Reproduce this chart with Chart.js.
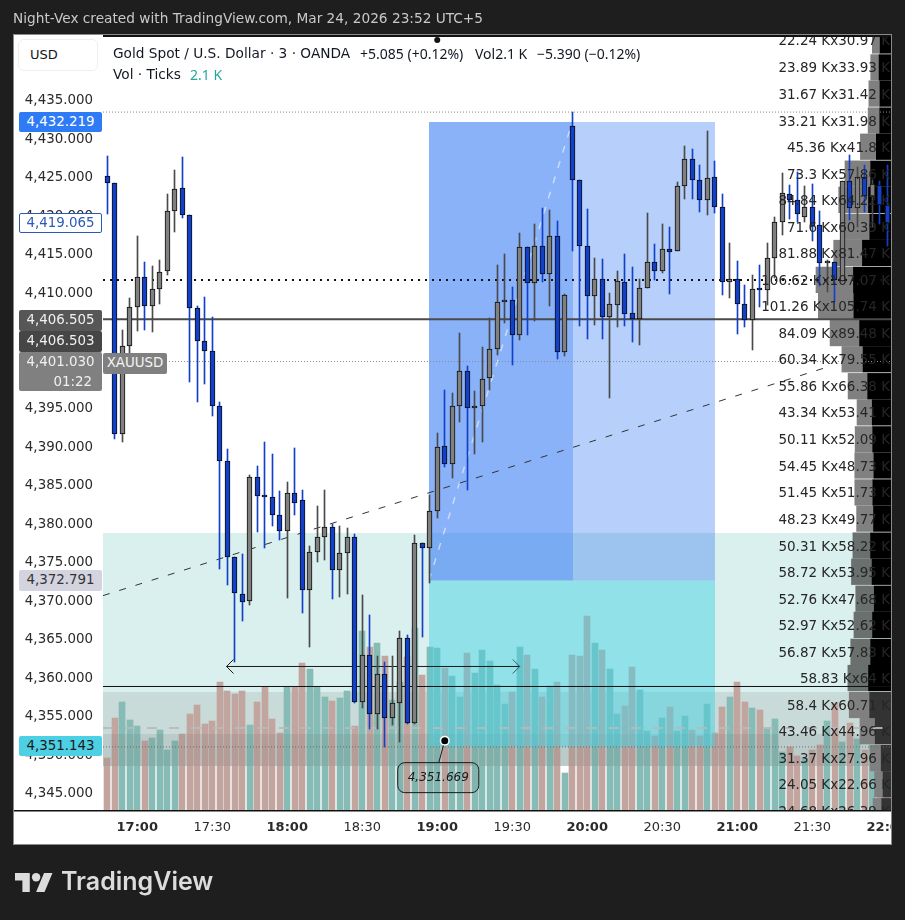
<!DOCTYPE html>
<html>
<head>
<meta charset="utf-8">
<title>XAUUSD</title>
<script src="https://cdn.jsdelivr.net/npm/chart.js@4"></script>
<style>
    html, body { margin: 0; padding: 0; background: #1e1e1e; }
    body { width: 905px; height: 920px; position: relative; overflow: hidden; font-family: "DejaVu Sans", sans-serif; }
    canvas { position: absolute; left: 0; top: 0; }
    .abs { position: absolute; white-space: pre; }
    .legend { color: #131722; font-size: 13.7px; }
    .legendNum { color: #131722; font-family: "Noto Sans", sans-serif; font-size: 14px; }
    .tag { position: absolute; left: 19px; width: 83px; text-align: center; font-size: 13.4px; line-height: 20px; box-sizing: border-box; border-radius: 2px; }
</style>
</head>
<body>
<canvas id="chart" width="905" height="920"></canvas>

<div class="abs" style="left:13px;top:10px;font-size:13.7px;color:#c9c9c9;">Night-Vex created with TradingView.com, Mar 24, 2026 23:52 UTC+5</div>
<div class="abs" style="left:18px;top:39px;width:78px;height:30px;border:1px solid #eeeeee;border-radius:6px;background:#fff;font-size:13px;line-height:30px;color:#131722;text-indent:11px;">USD</div>
<div class="abs legend" style="left:113px;top:45px;">Gold Spot / U.S. Dollar · 3 · OANDA</div>
<div class="abs legendNum" style="left:360px;top:44px;">+5.085 (+0.12%)</div>
<div class="abs legendNum" style="left:475px;top:44px;">Vol2.1 K</div>
<div class="abs legendNum" style="left:537px;top:44px;">−5.390 (−0.12%)</div>
<div class="abs legend" style="left:113px;top:66px;">Vol · Ticks</div>
<div class="abs legendNum" style="left:190px;top:65px;color:#26a69a;">2.1 K</div>

<div class="tag" style="top:112px;height:20px;background:#2f7bf6;color:#fff;">4,432.219</div>
<div class="tag" style="top:213px;height:20px;background:#fff;border:1px solid #2a5ab8;color:#2a5ab8;line-height:18px;">4,419.065</div>
<div class="tag" style="top:310px;height:21px;background:#575757;color:#f0f0f0;">4,406.505</div>
<div class="tag" style="top:331px;height:21px;background:#464646;color:#f0f0f0;">4,406.503</div>
<div class="tag" style="top:352px;height:39px;background:#808080;color:#f0f0f0;">4,401.030<br><span style="display:block;text-align:right;padding-right:10px;">01:22</span></div>
<div class="tag" style="left:103px;top:353px;width:64px;height:21px;background:#808080;color:#f4f4f4;">XAUUSD</div>
<div class="tag" style="top:570px;height:21px;background:#d4d4e0;color:#333;">4,372.791</div>
<div class="tag" style="top:736px;height:20px;background:#4dd0e4;color:#1a1a1a;">4,351.143</div>

<svg class="abs" style="left:15px;top:873px;" width="38" height="19" viewBox="0 4 36 18">
    <path fill="#dcdcdc" d="M14 22H7V11H0V4h14v18zM28 22h-8l7.5-18h8L28 22z"/>
    <circle fill="#dcdcdc" cx="20" cy="8" r="4"/>
</svg>
<div class="abs" style="left:61px;top:866px;font-family:Inter,sans-serif;font-size:25px;font-weight:600;color:#dcdcdc;">TradingView</div>

<script>
// 3 minute bars, the first one sits four bars before 17:00
const firstBar = -4;
const barOpens = [4424.96,4424.05,4391.45,4402.88,4407.95,4411.84,4408.08,4410.29,4412.62,4420.42,4423.40,4419.90,4407.82,4403.53,4402.23,4395.09,4387.95,4375.48,4370.68,4369.77,4385.87,4383.40,4383.27,4380.94,4378.86,4383.79,4382.88,4371.19,4376.13,4378.08,4379.38,4373.79,4376.00,4378.08,4356.65,4362.75,4355.09,4360.29,4354.57,4356.52,4364.96,4353.92,4377.30,4376.65,4381.45,4389.94,4387.64,4395.17,4399.64,4394.83,4395.09,4398.73,4402.49,4408.60,4408.86,4404.31,4415.74,4411.06,4415.87,4412.23,4417.17,4402.10,4431.45,4424.44,4415.87,4409.38,4411.58,4406.65,4408.21,4411.19,4407.17,4406.47,4410.42,4413.79,4412.62,4415.48,4415.22,4423.66,4427.17,4424.44,4421.84,4424.83,4420.94,4411.19,4411.58,4408.34,4406.26,4410.29,4410.16,4414.31,4418.99,4422.62,4421.84,4419.64,4420.94,4418.60,4413.70,4413.79,4411.32,4424.31,4420.81,4424.83,4422.23,4423.79,4421.19];
const barHighs = [4427.60,4424.05,4405.00,4409.16,4417.21,4413.83,4413.31,4414.09,4422.66,4425.78,4427.47,4419.90,4408.08,4409.29,4406.69,4395.69,4389.55,4375.48,4375.91,4386.13,4387.34,4390.42,4388.90,4384.09,4385.26,4389.68,4384.22,4376.91,4382.14,4384.18,4379.77,4379.51,4379.25,4378.47,4370.55,4367.95,4362.62,4361.84,4362.62,4365.87,4365.35,4378.34,4377.30,4383.57,4391.58,4397.21,4396.82,4404.57,4400.32,4397.08,4402.79,4406.56,4413.44,4414.87,4410.58,4417.56,4415.74,4418.77,4420.81,4420.58,4419.12,4409.68,4433.31,4424.44,4420.68,4414.31,4414.18,4409.77,4412.62,4414.83,4413.14,4411.58,4420.16,4416.13,4418.73,4418.34,4424.18,4428.86,4428.47,4426.39,4430.81,4426.91,4422.62,4416.26,4413.96,4410.81,4412.14,4413.44,4416.26,4419.64,4425.35,4423.83,4425.48,4423.70,4423.96,4420.42,4414.09,4413.83,4424.31,4427.69,4426.17,4426.39,4424.48,4424.35,4426.43];
const barLows = [4420.06,4390.81,4390.49,4402.01,4404.91,4405.04,4404.78,4408.38,4412.18,4417.77,4419.58,4398.29,4395.69,4398.03,4393.87,4373.92,4371.92,4361.92,4367.25,4369.25,4378.81,4376.73,4379.58,4377.77,4370.23,4380.94,4368.29,4363.87,4374.91,4375.17,4370.10,4370.36,4370.75,4356.52,4355.95,4353.14,4353.14,4350.88,4353.66,4351.45,4353.79,4353.79,4365.09,4372.10,4380.58,4387.25,4385.82,4393.09,4384.22,4388.90,4390.49,4397.21,4401.75,4405.87,4400.45,4403.70,4404.35,4406.17,4411.27,4408.12,4401.27,4401.62,4415.26,4405.52,4403.83,4405.65,4403.83,4396.17,4405.39,4405.52,4403.44,4403.05,4410.42,4411.45,4412.36,4409.68,4415.22,4422.01,4422.01,4420.32,4419.94,4420.23,4409.55,4409.12,4404.48,4405.43,4402.40,4408.03,4408.25,4411.71,4417.34,4419.38,4419.06,4418.99,4416.60,4410.71,4409.97,4408.68,4411.32,4419.29,4418.42,4420.36,4418.42,4418.77,4415.91];
const barCloses = [4424.05,4391.45,4402.88,4407.95,4411.84,4408.08,4410.29,4412.49,4420.42,4423.27,4419.90,4407.82,4403.53,4402.23,4395.09,4387.95,4375.48,4370.81,4369.64,4385.87,4383.40,4383.27,4380.94,4378.86,4383.79,4382.49,4371.19,4376.13,4378.08,4379.38,4373.79,4376.00,4378.08,4356.65,4362.75,4355.09,4360.29,4354.57,4356.52,4364.96,4353.92,4377.30,4376.65,4381.45,4389.84,4387.64,4395.09,4399.64,4394.83,4395.09,4398.60,4402.49,4408.60,4408.86,4404.31,4415.74,4411.06,4415.87,4412.23,4417.17,4402.10,4409.51,4424.44,4415.87,4409.38,4411.58,4406.65,4408.34,4411.32,4407.04,4406.47,4410.42,4413.79,4412.62,4415.48,4415.09,4423.66,4427.17,4424.44,4421.84,4424.70,4420.94,4411.19,4411.58,4408.34,4406.26,4410.29,4410.16,4414.31,4418.99,4422.75,4421.84,4420.03,4420.94,4418.47,4413.66,4413.79,4411.45,4424.31,4420.81,4424.83,4422.36,4423.92,4421.19,4418.86];
// tick volume in K
const barVolumes = [2.29,4.05,4.75,3.96,3.70,3.04,3.17,3.52,2.64,3.04,3.34,4.22,4.62,3.78,3.92,5.63,5.24,5.10,5.24,3.74,4.75,5.43,4.00,3.39,5.43,5.43,6.47,6.20,5.41,4.97,4.80,4.93,5.24,3.70,7.88,7.17,7.35,6.78,4.84,5.63,6.73,8.01,5.94,7.17,7.13,6.25,5.90,4.97,6.91,6.03,7.04,6.56,5.50,4.66,5.19,7.17,6.82,6.20,4.97,5.46,5.63,1.63,6.82,6.78,8.54,7.35,7.04,6.20,4.22,4.58,6.29,5.28,3.48,3.26,4.05,4.53,3.48,4.14,3.52,3.26,4.66,3.39,4.53,4.97,5.63,4.75,4.49,4.40,3.56,4.00,2.55,2.77,2.38,2.29,2.64,2.86,3.92,4.71,2.99,3.83,3.12,2.64,2.86,1.72,2.11];

// volume profile rows, top of the chart first
const rowPrices = [4442.6,4439.1,4435.7,4432.2,4428.8,4425.3,4421.9,4418.4,4415.0,4411.5,4408.1,4404.6,4401.2,4397.7,4394.3,4390.8,4387.4,4383.9,4380.5,4377.0,4373.6,4370.1,4366.7,4363.2,4359.8,4356.3,4352.9,4349.4,4346.0,4342.5];
const rowBuys = [22.24,23.89,31.67,33.21,45.36,73.3,84.84,71.6,81.88,106.62,101.26,84.09,60.34,55.86,43.34,50.11,54.45,51.45,48.23,50.31,58.72,52.76,52.97,56.87,58.83,58.4,43.46,31.37,24.05,24.68];
const rowSells = [30.97,33.93,31.42,31.98,41.8,57.86,64.22,60.39,81.47,107.07,105.74,89.48,79.55,66.38,53.41,52.09,48.73,51.73,49.77,58.22,53.95,47.68,52.62,57.83,64,60.71,44.96,27.96,22.66,26.39];

const priceTicks = [4435,4430,4425,4420,4415,4410,4405,4400,4395,4390,4385,4380,4375,4370,4365,4360,4355,4350,4345];
const timeTicks = [0,10,20,30,40,50,60,70,80,90,100];
const timeLabels = ['17:00','17:30','18:00','18:30','19:00','19:30','20:00','20:30','21:00','21:30','22:00'];

// levels drawn across the chart
const highLevel = 4433.3;
const dottedLevel = 4411.5;
const lastLevel = 4406.4;
const closeLevel = 4400.9;
const lowLevel = 4358.7;
const dashedLevel = 4353.3;
const cyanLevel = 4350.85;

// drawing tools, bar index and price
const trendX = [-4.57, 92.4];
const trendY = [4370.5, 4400.3];
const diagonalX = [38.9, 58];
const diagonalY = [4372.5, 4432];
const arrowX = [11.9, 51];
const arrowPrice = 4361.3;
const calloutBar = 41;
const calloutPrice = 4351.669;
const topDotBar = 40;

const blueRange = [38.9, 58.1, 77.03];
const bluePrices = [4432.01, 4372.47];
const cyanPrices = [4372.47, 4350.84];
const greenPrices = [4378.64, 4348.38];
const greyPrices = [4357.99, 4348.38];
const darkerPrices = [4352.53, 4348.38];

const xMin = -4.5667;
const xMax = 100.5;

const barX = barOpens.map((v, i) => firstBar + i);
const isUp = barOpens.map((v, i) => barCloses[i] >= v);

function levelLine(price, color, width, dash) {
    return {
        type: 'line',
        data: [{ x: xMin, y: price }, { x: xMax, y: price }],
        borderColor: color,
        borderWidth: width,
        borderDash: dash,
        pointRadius: 0,
        order: 6
    };
}

function toolLine(xs, ys, color, width, dash) {
    return {
        type: 'line',
        data: xs.map((x, i) => ({ x: x, y: ys[i] })),
        borderColor: color,
        borderWidth: width,
        borderDash: dash,
        pointRadius: 0,
        order: 6
    };
}

function fillRange(chart, fromX, toX, prices, color) {
    const { x, y } = chart.scales;
    const ctx = chart.ctx;
    ctx.save();
    ctx.fillStyle = color;
    const top = y.getPixelForValue(prices[0]);
    ctx.fillRect(x.getPixelForValue(fromX), top, x.getPixelForValue(toX) - x.getPixelForValue(fromX), y.getPixelForValue(prices[1]) - top);
    ctx.restore();
}

// panel behind the chart, and the position tool around the volume bars
const panelPlugin = {
    id: 'panel',
    beforeDraw(chart) {
        const ctx = chart.ctx;
        ctx.save();
        ctx.fillStyle = '#fff';
        ctx.fillRect(14, 35, 877, 809);
        ctx.strokeStyle = '#8a8a8a';
        ctx.strokeRect(13.5, 34.5, 878, 810);
        ctx.restore();
    },
    beforeDatasetDraw(chart, args) {
        if (chart.data.datasets[args.index].label !== 'Vol') return;
        fillRange(chart, xMin, xMax, greenPrices, 'rgba(38,166,154,0.17)');
        fillRange(chart, xMin, xMax, greyPrices, 'rgba(100,100,100,0.15)');
    },
    afterDatasetDraw(chart, args) {
        if (chart.data.datasets[args.index].label !== 'Vol') return;
        fillRange(chart, xMin, xMax, darkerPrices, 'rgba(90,90,90,0.12)');
        fillRange(chart, blueRange[0], blueRange[2], cyanPrices, 'rgba(71,210,226,0.5)');
        fillRange(chart, blueRange[0], blueRange[1], bluePrices, 'rgba(21,101,243,0.5)');
        fillRange(chart, blueRange[1], blueRange[2], bluePrices, 'rgba(21,101,243,0.31)');
    }
};

// keep the thin bars on whole pixels, like the original
const snapPlugin = {
    id: 'snap',
    beforeDatasetsDraw(chart) {
        chart.data.datasets.forEach((ds, i) => {
            if (ds.label !== 'Body' && ds.label !== 'Wick' && ds.label !== 'Vol') return;
            chart.getDatasetMeta(i).data.forEach(el => {
                el.x = ds.label === 'Vol' ? Math.round(el.x) : Math.floor(el.x) + 0.5;
                el.y = Math.round(el.y);
                el.base = Math.round(el.base);
            });
        });
    }
};

const overlayPlugin = {
    id: 'overlay',
    afterDatasetsDraw(chart) {
        const ctx = chart.ctx;
        const { x, y } = chart.scales;
        const area = chart.chartArea;

        // arrow heads of the date range tool
        const arrowY = y.getPixelForValue(arrowPrice);
        const arrowLeft = x.getPixelForValue(arrowX[0]);
        const arrowRight = x.getPixelForValue(arrowX[1]);
        ctx.save();
        ctx.strokeStyle = '#1a1a1a';
        ctx.lineWidth = 1;
        ctx.beginPath();
        ctx.moveTo(arrowLeft + 7, arrowY - 7);
        ctx.lineTo(arrowLeft, arrowY);
        ctx.lineTo(arrowLeft + 7, arrowY + 7);
        ctx.stroke();
        ctx.strokeStyle = '#2f5f6a';
        ctx.beginPath();
        ctx.moveTo(arrowRight - 7, arrowY - 7);
        ctx.lineTo(arrowRight, arrowY);
        ctx.lineTo(arrowRight - 7, arrowY + 7);
        ctx.stroke();

        // callout with its price
        const dotX = x.getPixelForValue(calloutBar);
        const dotY = y.getPixelForValue(calloutPrice);
        ctx.strokeStyle = '#1a1a1a';
        ctx.beginPath();
        ctx.moveTo(dotX, dotY);
        ctx.lineTo(dotX - 6, dotY + 22);
        ctx.stroke();
        ctx.beginPath();
        ctx.roundRect(dotX - 47, dotY + 22, 81, 30, 7);
        ctx.fillStyle = 'rgba(90,120,115,0.1)';
        ctx.fill();
        ctx.stroke();
        ctx.fillStyle = '#fff';
        ctx.beginPath();
        ctx.arc(dotX, dotY, 5, 0, Math.PI * 2);
        ctx.fill();
        ctx.fillStyle = '#000';
        ctx.beginPath();
        ctx.arc(dotX, dotY, 3.5, 0, Math.PI * 2);
        ctx.fill();
        ctx.fillStyle = '#1a1a1a';
        ctx.font = 'italic 12px "DejaVu Sans"';
        ctx.textAlign = 'center';
        ctx.textBaseline = 'middle';
        ctx.fillText(calloutPrice.toFixed(3).replace('4351', '4,351'), dotX - 6.5, dotY + 37);

        // profile labels
        ctx.beginPath();
        ctx.rect(area.left, area.top, area.right - area.left, area.bottom - area.top);
        ctx.clip();
        ctx.fillStyle = '#262626';
        ctx.font = '13.5px "DejaVu Sans"';
        ctx.textAlign = 'right';
        rowPrices.forEach((p, i) => {
            ctx.fillText(rowBuys[i] + ' Kx' + rowSells[i] + ' K', area.right - 1, y.getPixelForValue(p) + 1.5);
        });
        ctx.restore();

        // frame lines and the marker on top
        ctx.save();
        ctx.fillStyle = '#111';
        ctx.fillRect(area.left, 35, area.right - area.left, 2);
        ctx.fillRect(14, area.bottom, area.right - 14, 1.5);
        ctx.beginPath();
        ctx.arc(x.getPixelForValue(topDotBar), 40, 3, 0, Math.PI * 2);
        ctx.fill();
        ctx.restore();
    },
    afterDraw(chart) {
        // the last time label runs off the panel
        const ctx = chart.ctx;
        ctx.save();
        ctx.fillStyle = '#1e1e1e';
        ctx.fillRect(892, 0, 13, 920);
        ctx.fillStyle = '#8a8a8a';
        ctx.fillRect(891, 810, 1, 35);
        ctx.restore();
    }
};

new Chart(document.getElementById('chart').getContext('2d'), {
    type: 'bar',
    data: {
        datasets: [
            {
                label: 'Vol',
                data: barVolumes.map((v, i) => ({ x: barX[i], y: v })),
                yAxisID: 'yVol',
                backgroundColor: isUp.map(up => up ? '#87bbb5' : '#c3a5a0'),
                barThickness: 6,
                order: 9
            },
            {
                label: 'Sell',
                indexAxis: 'y',
                data: rowPrices.map((p, i) => ({ y: p, x: [0, rowSells[i]] })),
                xAxisID: 'xProfile',
                yAxisID: 'y',
                backgroundColor: rowPrices.map(p => p < 4358 ? '#333333' : '#000000'),
                barThickness: 25.6,
                order: 7
            },
            {
                label: 'Buy',
                indexAxis: 'y',
                data: rowPrices.map((p, i) => ({ y: p, x: [rowSells[i], rowSells[i] + rowBuys[i]] })),
                xAxisID: 'xProfile',
                yAxisID: 'y',
                backgroundColor: rowPrices.map(p => p < 4378.6 && p > 4358 ? '#69706e' : '#808080'),
                barThickness: 25.6,
                order: 7
            },
            levelLine(highLevel, '#8a8a8a', 1, [1, 2]),
            levelLine(dottedLevel, '#111', 2, [2, 5]),
            levelLine(lastLevel, '#4a4a4a', 2, []),
            levelLine(closeLevel, '#8a8a8a', 1, [1, 2]),
            levelLine(lowLevel, '#111', 1, []),
            levelLine(dashedLevel, 'rgba(185,185,185,0.9)', 2, [10, 12]),
            levelLine(cyanLevel, '#6b6b6b', 1, [1, 2]),
            toolLine(trendX, trendY, '#333', 1, [7, 10]),
            toolLine(diagonalX, diagonalY, 'rgba(255,255,255,0.55)', 1.5, [7, 9]),
            toolLine(arrowX, [arrowPrice, arrowPrice], '#1a1a1a', 1, []),
            {
                label: 'Wick',
                data: barX.map((x, i) => ({ x: x, y: [barLows[i], barHighs[i]] })),
                backgroundColor: isUp.map(up => up ? '#4a4a4a' : '#1340c8'),
                barThickness: 1,
                order: 3
            },
            {
                label: 'Body',
                data: barX.map((x, i) => ({ x: x, y: [barOpens[i], barCloses[i]] })),
                backgroundColor: isUp.map(up => up ? '#808080' : '#1340c8'),
                borderColor: '#0d0d0d',
                borderWidth: 1,
                borderSkipped: false,
                minBarLength: 2,
                barThickness: 5,
                order: 2
            }
        ]
    },
    options: {
        responsive: false,
        animation: false,
        devicePixelRatio: 1,
        grouped: false,
        layout: { padding: { left: 14, top: 36, right: 14, bottom: 76 } },
        plugins: { legend: { display: false }, tooltip: { enabled: false } },
        scales: {
            x: {
                type: 'linear',
                offset: false,
                min: xMin,
                max: xMax,
                grid: { display: false, drawTicks: false },
                border: { display: false },
                afterBuildTicks(axis) {
                    axis.ticks = timeTicks.map(v => ({ value: v }));
                },
                afterFit(axis) {
                    axis.height = 34;
                    axis.paddingLeft = 0;
                    axis.paddingRight = 0;
                },
                ticks: {
                    autoSkip: false,
                    maxRotation: 0,
                    padding: 10,
                    color: '#2a2a2a',
                    font: ctx => ({ family: '"DejaVu Sans"', size: 13, weight: ctx.index % 2 === 0 ? '700' : '400' }),
                    callback: (v, i) => timeLabels[i]
                }
            },
            y: {
                type: 'linear',
                position: 'left',
                offset: false,
                min: 4342.66,
                max: 4443.18,
                grid: { display: false, drawTicks: false },
                border: { display: false },
                afterBuildTicks(axis) {
                    axis.ticks = priceTicks.map(v => ({ value: v }));
                },
                afterFit(axis) {
                    axis.width = 89;
                    axis.paddingTop = 0;
                    axis.paddingBottom = 0;
                },
                ticks: {
                    padding: 10,
                    labelOffset: 2,
                    color: '#2a2a2a',
                    font: { family: '"DejaVu Sans"', size: 13.4 },
                    callback: v => v.toLocaleString('en-US', { minimumFractionDigits: 3 })
                }
            },
            yVol: { type: 'linear', axis: 'y', display: false, min: 0, max: 34.06 },
            xProfile: { type: 'linear', axis: 'x', display: false, reverse: true, offset: false, min: 0, max: 2245 }
        }
    },
    plugins: [panelPlugin, snapPlugin, overlayPlugin]
});
</script>
</body>
</html>
